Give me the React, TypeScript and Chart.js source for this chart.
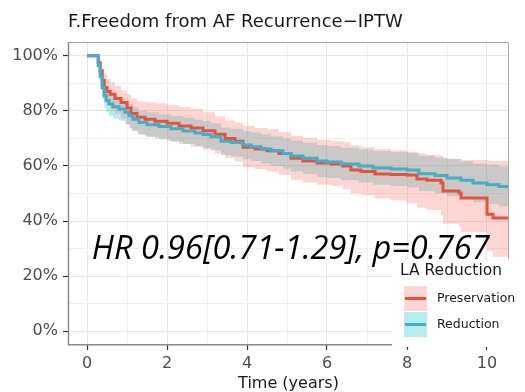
import { useEffect, useRef } from 'react';
import { Chart, registerables } from 'chart.js';
Chart.register(...registerables);

// ---------- data ----------
const TITLE = 'F.Freedom from AF Recurrence\u2212IPTW';
const X_TITLE = 'Time (years)';
const LEGEND_TITLE = 'LA Reduction';
const SERIES_NAMES = ['Preservation', 'Reduction'];
const HR_TEXT = 'HR 0.96[0.71-1.29], p=0.767';

const X_TICKS = [0, 1, 2, 3, 4, 5, 6, 7, 8, 9, 10];
const Y_TICKS = [0, 0.1, 0.2, 0.3, 0.4, 0.5, 0.6, 0.7, 0.8, 0.9, 1.0];

// Preservation (red)
const T_PRES = [0, 0.28, 0.33, 0.38, 0.43, 0.5, 0.58, 0.7, 0.85, 1.0, 1.1, 1.25, 1.45, 1.7, 2.0, 2.3, 2.6, 2.9, 3.2, 3.45, 3.7, 3.9, 4.2, 4.5, 4.8, 5.1, 5.4, 5.75, 6.1, 6.4, 6.6, 6.85, 7.2, 7.6, 8.0, 8.25, 8.5, 8.85, 8.9, 9.3, 9.35, 10.0, 10.15, 10.55];
const S_PRES = [1.0, 0.975, 0.945, 0.91, 0.885, 0.87, 0.86, 0.845, 0.83, 0.81, 0.79, 0.777, 0.77, 0.762, 0.755, 0.745, 0.738, 0.728, 0.715, 0.70, 0.69, 0.668, 0.662, 0.655, 0.645, 0.628, 0.618, 0.611, 0.607, 0.6, 0.585, 0.58, 0.571, 0.569, 0.567, 0.553, 0.548, 0.538, 0.509, 0.502, 0.484, 0.425, 0.411, 0.411];
const UP_PRES = [1.0, 0.99, 0.975, 0.955, 0.935, 0.915, 0.905, 0.89, 0.875, 0.86, 0.845, 0.835, 0.832, 0.828, 0.82, 0.813, 0.808, 0.795, 0.78, 0.765, 0.758, 0.745, 0.738, 0.733, 0.722, 0.71, 0.702, 0.695, 0.69, 0.686, 0.675, 0.668, 0.662, 0.657, 0.652, 0.645, 0.64, 0.635, 0.627, 0.625, 0.622, 0.62, 0.618, 0.618];
const LO_PRES = [1.0, 0.955, 0.915, 0.865, 0.835, 0.82, 0.805, 0.79, 0.772, 0.75, 0.73, 0.716, 0.707, 0.70, 0.69, 0.68, 0.67, 0.66, 0.645, 0.63, 0.615, 0.595, 0.588, 0.58, 0.568, 0.55, 0.54, 0.532, 0.527, 0.515, 0.5, 0.494, 0.482, 0.475, 0.465, 0.448, 0.44, 0.42, 0.39, 0.38, 0.36, 0.29, 0.27, 0.27];

// Reduction (teal)
const T_RED = [0, 0.28, 0.33, 0.38, 0.43, 0.48, 0.55, 0.65, 0.8, 0.95, 1.05, 1.15, 1.3, 1.5, 1.8, 2.1, 2.4, 2.7, 2.9, 3.1, 3.35, 3.6, 3.9, 4.1, 4.35, 4.6, 4.9, 5.1, 5.4, 5.75, 6.0, 6.35, 6.8, 7.15, 7.6, 8.0, 8.3, 8.7, 9.0, 9.35, 9.65, 10.0, 10.3, 10.55];
const S_RED = [1.0, 0.965, 0.925, 0.885, 0.855, 0.838, 0.825, 0.815, 0.807, 0.795, 0.782, 0.77, 0.758, 0.75, 0.743, 0.735, 0.727, 0.72, 0.714, 0.706, 0.69, 0.685, 0.676, 0.67, 0.662, 0.655, 0.645, 0.636, 0.628, 0.618, 0.614, 0.607, 0.6, 0.593, 0.589, 0.585, 0.572, 0.565, 0.556, 0.548, 0.538, 0.532, 0.525, 0.516];
const UP_RED = [1.0, 0.99, 0.96, 0.925, 0.895, 0.878, 0.865, 0.855, 0.847, 0.836, 0.825, 0.813, 0.8, 0.795, 0.788, 0.782, 0.775, 0.768, 0.763, 0.755, 0.74, 0.735, 0.727, 0.722, 0.715, 0.708, 0.7, 0.692, 0.685, 0.676, 0.672, 0.666, 0.66, 0.654, 0.651, 0.648, 0.637, 0.631, 0.624, 0.617, 0.609, 0.604, 0.598, 0.592];
const LO_RED = [1.0, 0.94, 0.89, 0.845, 0.812, 0.795, 0.782, 0.772, 0.765, 0.752, 0.738, 0.726, 0.713, 0.705, 0.697, 0.688, 0.68, 0.672, 0.665, 0.657, 0.64, 0.634, 0.624, 0.618, 0.608, 0.6, 0.59, 0.58, 0.571, 0.56, 0.556, 0.548, 0.54, 0.532, 0.527, 0.522, 0.508, 0.5, 0.49, 0.48, 0.468, 0.461, 0.453, 0.442];

// ---------- styles ----------
const RED_LINE = '#E5533F';
const TEAL_LINE = '#45AEC6';
const RED_FILL = 'rgba(248,118,109,0.3)';
const TEAL_FILL = 'rgba(0,191,196,0.29)';
const FONT = '"DejaVu Sans", "Liberation Sans", sans-serif';

const pts = (t: number[], s: number[]) => t.map((x, i) => ({ x, y: s[i] }));

const overlay = {
  id: 'overlay',
  afterDatasetsDraw(chart: any) {
    const { ctx, chartArea: a, scales } = chart;
    const xs = scales.x;
    const ys = scales.y;
    ctx.save();
    // annotation text
    let size = 28;
    ctx.font = `italic ${size}px "Open Sans", sans-serif`;
    const w = ctx.measureText(HR_TEXT).width;
    const x0 = xs.getPixelForValue(0.12);
    const target = xs.getPixelForValue(10.07) - x0;
    size = (size * target) / w;
    ctx.font = `italic ${size}px "Open Sans", sans-serif`;
    ctx.fillStyle = '#000';
    ctx.textBaseline = 'alphabetic';
    ctx.textAlign = 'left';
    ctx.fillText(HR_TEXT, x0, ys.getPixelForValue(0.262));
    // panel border
    ctx.strokeStyle = '#a8a8a8';
    ctx.lineWidth = 1;
    ctx.beginPath();
    ctx.moveTo(a.left, a.top + 0.5);
    ctx.lineTo(a.right - 0.5, a.top + 0.5);
    ctx.lineTo(a.right - 0.5, a.bottom);
    ctx.stroke();
    ctx.strokeStyle = '#8a8a8a';
    ctx.lineWidth = 1.5;
    ctx.beginPath();
    ctx.moveTo(a.left + 0.5, a.top);
    ctx.lineTo(a.left + 0.5, a.bottom - 0.25);
    ctx.lineTo(a.right, a.bottom - 0.25);
    ctx.stroke();
    ctx.restore();
  },
  afterDraw(chart: any) {
    const { ctx, chartArea: a } = chart;
    ctx.save();
    // title
    ctx.font = `18px ${FONT}`;
    ctx.fillStyle = '#1a1a1a';
    ctx.textAlign = 'left';
    ctx.textBaseline = 'alphabetic';
    ctx.fillText(TITLE, a.left, 27);
    // legend
    const lx = 392;
    const ly = 259;
    ctx.fillStyle = '#ffffff';
    ctx.fillRect(lx, ly, chart.width - lx, a.bottom + 2 - ly);
    ctx.fillStyle = '#1a1a1a';
    ctx.font = `15.5px ${FONT}`;
    ctx.textBaseline = 'middle';
    ctx.fillText(LEGEND_TITLE, 400, 271);
    const keys = [
      { fill: RED_FILL, line: RED_LINE, y: 286 },
      { fill: TEAL_FILL, line: TEAL_LINE, y: 312 },
    ];
    keys.forEach((k, i) => {
      ctx.fillStyle = k.fill;
      ctx.fillRect(404, k.y, 23, 25);
      ctx.strokeStyle = k.line;
      ctx.lineWidth = 3;
      ctx.beginPath();
      ctx.moveTo(405, k.y + 12.5);
      ctx.lineTo(426, k.y + 12.5);
      ctx.stroke();
      ctx.fillStyle = '#1a1a1a';
      ctx.font = `12.5px ${FONT}`;
      ctx.fillText(SERIES_NAMES[i], 437, k.y + 12.5);
    });
    ctx.restore();
  },
};

export default function App() {
  const ref = useRef<HTMLCanvasElement>(null);
  useEffect(() => {
    if (!ref.current) return;
    const band = (data: any, color: string, fill: any, order: number) => ({
      data,
      borderWidth: 0,
      borderColor: 'transparent',
      backgroundColor: color,
      pointRadius: 0,
      stepped: 'before',
      fill,
      order,
    });
    const chart = new Chart(ref.current, {
      type: 'line',
      data: {
        datasets: [
          band(pts(T_RED, LO_RED), TEAL_FILL, 1, 3),
          band(pts(T_RED, UP_RED), TEAL_FILL, false, 3),
          band(pts(T_PRES, LO_PRES), RED_FILL, 3, 2),
          band(pts(T_PRES, UP_PRES), RED_FILL, false, 2),
          {
            data: pts(T_PRES, S_PRES),
            borderColor: RED_LINE,
            borderWidth: 3,
            pointRadius: 0,
            stepped: 'before',
            fill: false,
            order: 1,
          },
          {
            data: pts(T_RED, S_RED),
            borderColor: TEAL_LINE,
            borderWidth: 3,
            pointRadius: 0,
            stepped: 'before',
            fill: false,
            order: 0,
          },
        ] as any,
      },
      options: {
        animation: false,
        responsive: false,
        devicePixelRatio: 1,
        layout: { padding: { top: 42, right: 16, left: 0, bottom: 0 } },
        plugins: {
          legend: { display: false },
          tooltip: { enabled: false },
          title: { display: false },
        },
        scales: {
          x: {
            type: 'linear',
            min: -0.475,
            max: 10.55,
            afterBuildTicks: (s: any) => {
              s.ticks = X_TICKS.map((v) => ({ value: v }));
            },
            afterFit: (s: any) => {
              s.height = 47;
            },
            border: { display: false },
            grid: {
              color: (c: any) => (c.tick && c.tick.value % 2 === 0 ? '#e6e6e6' : '#f0f0f0'),
              lineWidth: 1,
              tickLength: 5,
              tickColor: (c: any) => (c.tick && c.tick.value % 2 === 0 ? '#333333' : 'rgba(0,0,0,0)'),
              tickWidth: 1.2,
            },
            ticks: {
              autoSkip: false,
              maxRotation: 0,
              padding: 4,
              color: '#4d4d4d',
              font: { family: FONT, size: 16 },
              callback: (v: any) => (v % 2 === 0 ? String(v) : ''),
            },
            title: {
              display: true,
              text: X_TITLE,
              color: '#1a1a1a',
              font: { family: FONT, size: 16 },
              padding: { top: 0, bottom: -1 },
            },
          },
          y: {
            type: 'linear',
            min: -0.05,
            max: 1.05,
            afterBuildTicks: (s: any) => {
              s.ticks = Y_TICKS.map((v) => ({ value: v }));
            },
            afterFit: (s: any) => {
              s.width = 68;
            },
            border: { display: false },
            grid: {
              color: (c: any) => (c.tick && Math.round(c.tick.value * 10) % 2 === 0 ? '#e6e6e6' : '#f0f0f0'),
              lineWidth: 1,
              tickLength: 5,
              tickColor: (c: any) => (c.tick && Math.round(c.tick.value * 10) % 2 === 0 ? '#333333' : 'rgba(0,0,0,0)'),
              tickWidth: 1.2,
            },
            ticks: {
              autoSkip: false,
              padding: 5,
              color: '#4d4d4d',
              font: { family: FONT, size: 16 },
              callback: (v: any) => {
                const p = Math.round(v * 100);
                return p % 20 === 0 ? `${p}%` : '';
              },
            },
          },
        },
      },
      plugins: [overlay],
    } as any);
    return () => chart.destroy();
  }, []);
  return (
    <div style={{ position: 'fixed', left: 0, top: 0, width: 525, height: 392, background: '#fff' }}>
      <canvas ref={ref} width={525} height={392} style={{ width: 525, height: 392, display: 'block' }} />
    </div>
  );
}
